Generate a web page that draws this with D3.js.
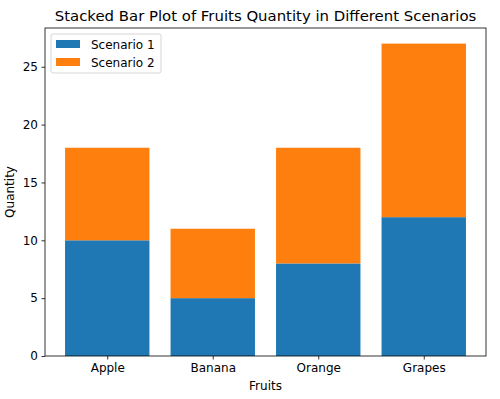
<!DOCTYPE html>
<html lang="en">
<head>
    <meta charset="UTF-8">
    <title>Stacked Bar Plot</title>
    <style>
        body { margin: 0; background: #fff; }
        text { font-family: "DejaVu Sans", sans-serif; fill: #000; }
    </style>
</head>
<body>
    <div class="container"></div>
    <script src="https://cdn.jsdelivr.net/npm/d3@7/dist/d3.min.js"></script>
    <script>
        // Data
        const fruits = ["Apple", "Banana", "Orange", "Grapes"]
        const scenario1 = [10, 5, 8, 12]
        const scenario2 = [8, 6, 10, 15]
        const seriesNames = ["Scenario 1", "Scenario 2"]
        const colors = ["#1f77b4", "#ff7f0e"]
        const yTicks = [0, 5, 10, 15, 20, 25]

        // Setup
        const width = 500
        const height = 399
        const margin = {left: 45, right: 14, top: 28, bottom: 43}
        const chartWidth = width - margin.left - margin.right
        const chartHeight = height - margin.top - margin.bottom
        const fontSize = "12px"

        const svg = d3.select('.container')
                    .append("svg")
                    .attr("width", width)
                    .attr("height", height)

        const chart = svg.append("g")
                    .attr("transform", `translate(${margin.left},${margin.top})`)

        // Stack the two series
        const rows = fruits.map((f, i) => ({fruit: f, s1: scenario1[i], s2: scenario2[i]}))
        const stacked = d3.stack().keys(["s1", "s2"])(rows)

        const maxTotal = d3.max(rows, d => d.s1 + d.s2)
        const barWidth = 0.8
        const xPad = 0.05 * (fruits.length - 1 + barWidth)

        const xScale = d3.scaleLinear()
                    .domain([-barWidth / 2 - xPad, fruits.length - 1 + barWidth / 2 + xPad])
                    .range([0, chartWidth])
        const yScale = d3.scaleLinear()
                    .domain([0, maxTotal * 1.05])
                    .range([chartHeight, 0])

        // Bars
        stacked.forEach((layer, k) => {
            chart.append("g")
                .selectAll("rect")
                .data(layer)
                .join("rect")
                .attr("x", (d, i) => xScale(i - barWidth / 2))
                .attr("width", xScale(barWidth) - xScale(0))
                .attr("y", d => yScale(d[1]))
                .attr("height", d => yScale(d[0]) - yScale(d[1]))
                .attr("fill", colors[k])
        })

        // Axes
        const bottomAxis = d3.axisBottom(xScale)
                    .tickValues(d3.range(fruits.length))
                    .tickFormat(i => fruits[i])
                    .tickSize(3.5)
                    .tickPadding(3.5)
                    .tickSizeOuter(0)
        const bottomG = chart.append("g")
                    .attr("transform", `translate(0,${chartHeight})`)
                    .call(bottomAxis)

        const leftAxis = d3.axisLeft(yScale)
                    .tickValues(yTicks)
                    .tickSize(3.5)
                    .tickPadding(3.5)
                    .tickSizeOuter(0)
        const leftG = chart.append("g").call(leftAxis)

        ;[bottomG, leftG].forEach(g => {
            g.selectAll("text").style("font-size", fontSize).style("font-family", "DejaVu Sans")
            g.selectAll("line").attr("stroke", "#000").attr("stroke-width", 0.8)
            g.select(".domain").remove()
        })

        // Frame
        chart.append("rect")
            .attr("width", chartWidth)
            .attr("height", chartHeight)
            .attr("fill", "none")
            .attr("stroke", "#000")
            .attr("stroke-width", 0.8)

        // Title and labels
        svg.append("text")
            .attr("x", margin.left + chartWidth / 2)
            .attr("y", 21)
            .attr("text-anchor", "middle")
            .style("font-size", "14.9px")
            .text("Stacked Bar Plot of Fruits Quantity in Different Scenarios")

        svg.append("text")
            .attr("x", margin.left + chartWidth / 2)
            .attr("y", 390)
            .attr("text-anchor", "middle")
            .style("font-size", fontSize)
            .text("Fruits")

        svg.append("text")
            .attr("transform", `translate(14,${margin.top + chartHeight / 2}) rotate(-90)`)
            .attr("text-anchor", "middle")
            .style("font-size", fontSize)
            .text("Quantity")

        // Legend
        const legend = chart.append("g").attr("transform", "translate(6,6)")
        legend.append("rect")
            .attr("width", 110)
            .attr("height", 39)
            .attr("rx", 2)
            .attr("fill", "#fff")
            .attr("fill-opacity", 0.8)
            .attr("stroke", "#ccc")
            .attr("stroke-width", 0.8)
        seriesNames.forEach((name, i) => {
            const row = legend.append("g").attr("transform", `translate(5,${6 + i * 18})`)
            row.append("rect")
                .attr("width", 24)
                .attr("height", 8)
                .attr("fill", colors[i])
            row.append("text")
                .attr("x", 35)
                .attr("y", 8.5)
                .style("font-size", fontSize)
                .text(name)
        })
    </script>
</body>
</html>
